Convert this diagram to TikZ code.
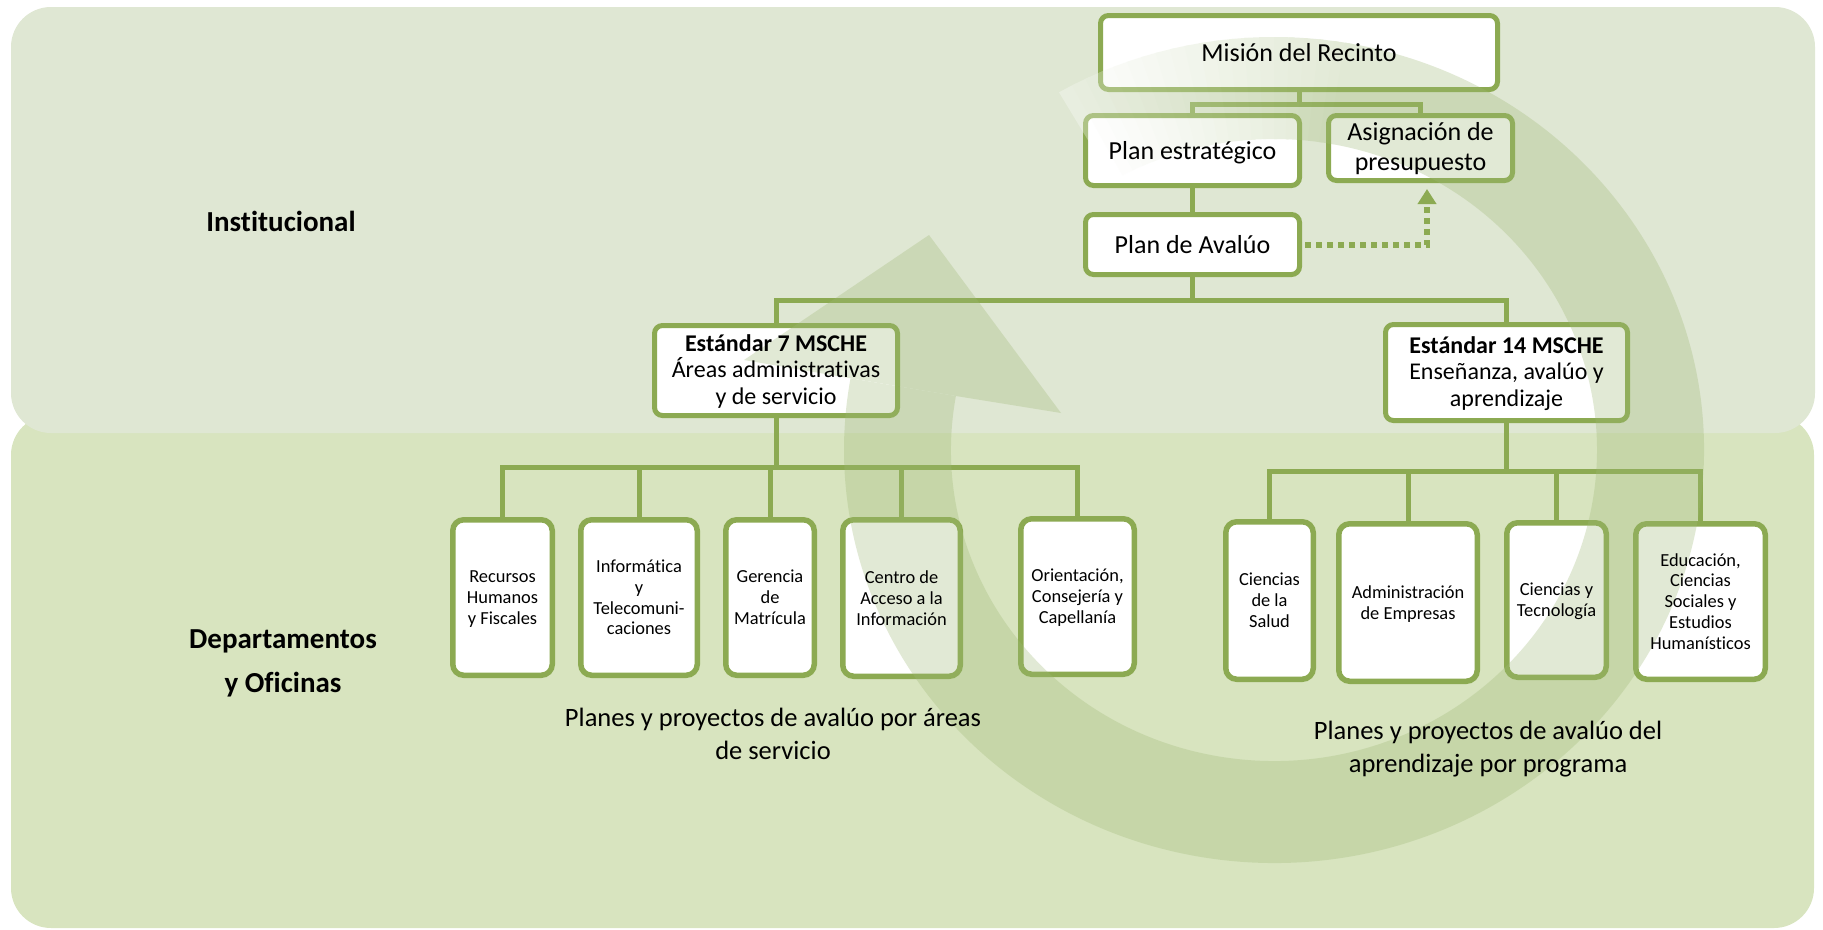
\documentclass[tikz,border=0pt]{standalone}
\usepackage{fontspec}
\setmainfont{Carlito}[Ligatures=NoCommon]
\usetikzlibrary{arrows.meta,calc}
\definecolor{bandtop}{RGB}{223,231,211}
\definecolor{bandbot}{RGB}{216,228,191}
\definecolor{olive}{RGB}{140,170,82}
\definecolor{ringc}{RGB}{158,184,116}
\begin{document}
\begin{tikzpicture}[x=1pt,y=-1pt,
  box/.style={draw=olive, line width=5pt, fill=white, rounded corners=8pt, inner sep=0pt},
  dept/.style={draw=olive, line width=5.5pt, fill=white, rounded corners=11pt, inner sep=0pt},
  conn/.style={draw=olive, line width=5pt},
  txt/.style={align=center, inner sep=0pt, text=black, yshift=-3pt, execute at begin node=\strut, execute at end node=\strut},
  bigf/.style={font=\fontsize{26}{30}\selectfont},
  midf/.style={font=\fontsize{24}{26.7}\selectfont},
  smallf/.style={font=\fontsize{18.4}{20.8}\selectfont},
  notef/.style={font=\fontsize{26.5}{33}\selectfont},
  sidef/.style={font=\fontsize{29}{44}\selectfont\bfseries}]
\useasboundingbox (0,0) rectangle (1823,929);
% bands
\fill[bandbot, rounded corners=40pt] (11,415) rectangle (1814,928);
\fill[bandtop, rounded corners=40pt] (11,7) rectangle (1815,433);
% boxes
\node[box, minimum width=397pt, minimum height=74pt] (mision) at (1299,52.5) {};
\node[box, minimum width=214pt, minimum height=70pt] (plan) at (1192.5,150.5) {};
\node[box, minimum width=184pt, minimum height=65pt] (asig) at (1420.5,148) {};
\node[box, minimum width=214pt, minimum height=60pt] (aval) at (1192.5,244.5) {};
\node[box, minimum width=243pt, minimum height=90pt] (est7) at (776,370.5) {};
\node[box, minimum width=242pt, minimum height=96pt] (est14) at (1506.5,372.5) {};
\node[dept, minimum width=99.5pt, minimum height=155.5pt] (rec) at (502.5,597.5) {};
\node[dept, minimum width=116.5pt, minimum height=155.5pt] (inf) at (639,597.5) {};
\node[dept, minimum width=88.5pt, minimum height=155.5pt] (ger) at (770,597.5) {};
\node[dept, minimum width=117.5pt, minimum height=156.5pt] (cen) at (901.5,598) {};
\node[dept, minimum width=113.5pt, minimum height=155.5pt] (ori) at (1077.5,596.5) {};
\node[dept, minimum width=87.5pt, minimum height=157.5pt] (sal) at (1269.5,600.5) {};
\node[dept, minimum width=138.5pt, minimum height=157.5pt] (adm) at (1408,602.5) {};
\node[dept, minimum width=99.5pt, minimum height=154.5pt] (tec) at (1556.5,600) {};
\node[dept, minimum width=129.5pt, minimum height=155.5pt] (edu) at (1700.5,601.5) {};
% connectors
\coordinate (j1) at (1299,104);
\coordinate (j2) at (1192.5,300);
\coordinate (j3) at (776,467);
\coordinate (j4) at (1506.5,471);
\draw[conn] (mision.south) -- (j1);
\draw[conn] (plan.north) |- (j1) -| (asig.north);
\draw[conn] (plan.south) -- (aval.north);
\draw[conn] (aval.south) -- (j2);
\draw[conn] (est7.north) |- (j2) -| (est14.north);
\draw[conn] (est7.south) -- (j3);
\draw[conn] (rec.north) |- (j3) -| (ori.north);
\draw[conn] (inf.north) -- (inf.north |- j3);
\draw[conn] (ger.north) -- (ger.north |- j3);
\draw[conn] (cen.north) -- (cen.north |- j3);
\draw[conn] (est14.south) -- (j4);
\draw[conn] (sal.north) |- (j4) -| (edu.north);
\draw[conn] (adm.north) -- (adm.north |- j4);
\draw[conn] (tec.north) -- (tec.north |- j4);
\draw[olive, line width=6pt, dash pattern=on 6pt off 5pt, -{Triangle[width=18pt,length=15pt]}, shorten <=3pt, shorten >=6pt] (aval.east) -| ([xshift=6.5pt]asig.south);
% circular arrow
\begin{scope}[shift={(1274,450)}, transparency group, opacity=0.3]
\foreach \t in {120,118,...,82} {
  \pgfmathsetmacro\p{(120-\t)*2.5}
  \pgfmathsetmacro\tt{\t-2.6}
  \fill[ringc!\p!white] (\t:430pt and 413pt) arc[start angle=\t, end angle=\tt, x radius=430pt, y radius=413pt] -- (\tt:323pt and 311pt) arc[start angle=\tt, end angle=\t, x radius=323pt, y radius=311pt] -- cycle;
}
\fill[ringc] (80.5:430pt and 413pt) arc[start angle=80.5, end angle=-190, x radius=430pt, y radius=413pt] -- (-190:323pt and 311pt) arc[start angle=-190, end angle=80.5, x radius=323pt, y radius=311pt] -- cycle;
\fill[ringc] (-190:430pt and 413pt) -- (-530pt,90pt) -- (-345pt,215pt) -- (-213pt,37pt) -- (-190:323pt and 311pt) -- cycle;
\end{scope}
% texts
\node[txt, bigf] (mision-t) at (mision) {Misión del Recinto};
\node[txt, bigf] (plan-t) at (plan) {Plan estratégico};
\node[txt, bigf] (asig-t) at (asig) {Asignación de\\presupuesto};
\node[txt, bigf] (aval-t) at (aval) {Plan de Avalúo};
\node[txt, midf] (est7-t) at (est7) {\textbf{Estándar 7 MSCHE}\\Áreas administrativas\\y de servicio};
\node[txt, midf] (est14-t) at (est14) {\textbf{Estándar 14 MSCHE}\\Enseñanza, avalúo y\\aprendizaje};
\node[txt, smallf] (rec-t) at (rec) {Recursos\\Humanos\\y Fiscales};
\node[txt, smallf] (inf-t) at (inf) {Informática\\y\\Telecomuni-\\caciones};
\node[txt, smallf] (ger-t) at (ger) {Gerencia\\de\\Matrícula};
\node[txt, smallf] (cen-t) at (cen) {Centro de\\Acceso a la\\Información};
\node[txt, smallf] (ori-t) at (ori) {Orientación,\\Consejería y\\Capellanía};
\node[txt, smallf] (sal-t) at (sal) {Ciencias\\de la\\Salud};
\node[txt, smallf] (adm-t) at (adm) {Administración\\de Empresas};
\node[txt, smallf] (tec-t) at (tec) {Ciencias y\\Tecnología};
\node[txt, smallf] (edu-t) at (edu) {Educación,\\Ciencias\\Sociales y\\Estudios\\Humanísticos};
\node[txt, notef] (note1) at (773,736) {Planes y proyectos de avalúo por áreas\\de servicio};
\node[txt, notef] (note2) at (1488,749) {Planes y proyectos de avalúo del\\aprendizaje por programa};
\node[txt, sidef] (inst) at (281,220) {Institucional};
\node[txt, sidef] (deps) at (283,665) {Departamentos\\y Oficinas};
\end{tikzpicture}
\end{document}
